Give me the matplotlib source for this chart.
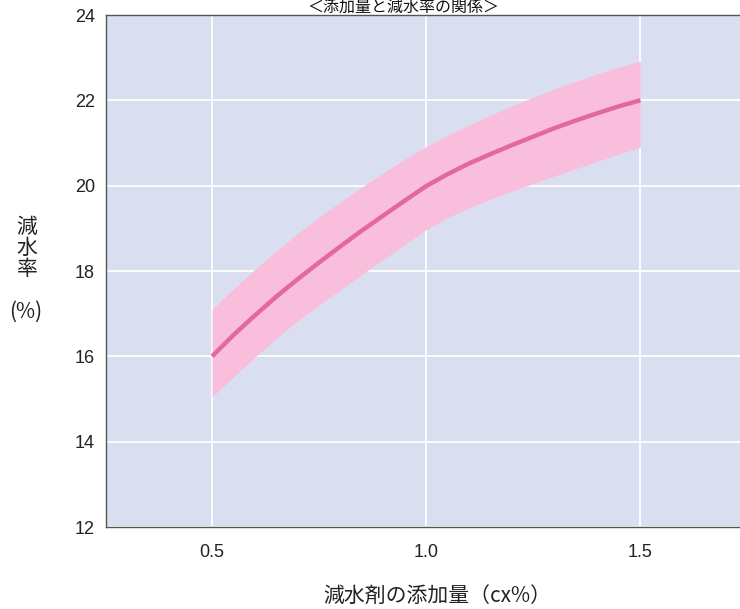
import matplotlib
matplotlib.use("Agg")
import matplotlib.pyplot as plt

plt.rcParams['font.family'] = ['Noto Sans CJK JP', 'DejaVu Sans']

# Data
dosage = [0.5, 0.55, 0.6, 0.65, 0.7, 0.75, 0.8, 0.85, 0.9, 0.95, 1.0,
          1.05, 1.1, 1.15, 1.2, 1.25, 1.3, 1.35, 1.4, 1.45, 1.5]
reduction = [16.0, 16.5, 16.96, 17.4, 17.81, 18.2, 18.58, 18.95, 19.3, 19.65, 19.99,
             20.27, 20.52, 20.74, 20.95, 21.15, 21.35, 21.53, 21.7, 21.86, 22.0]
band_upper = [17.1, 17.58, 18.04, 18.47, 18.88, 19.26, 19.62, 19.97, 20.3, 20.62, 20.92,
              21.18, 21.42, 21.65, 21.87, 22.07, 22.27, 22.45, 22.62, 22.78, 22.92]
band_lower = [15.05, 15.52, 15.98, 16.42, 16.83, 17.2, 17.56, 17.92, 18.27, 18.62, 18.97,
              19.25, 19.48, 19.68, 19.87, 20.05, 20.23, 20.4, 20.57, 20.74, 20.9]
x_ticks = [0.5, 1.0, 1.5]
x_ticklabels = ['0.5', '1.0', '1.5']
y_ticks = [12, 14, 16, 18, 20, 22, 24]

W, H = 740, 609
fig = plt.figure(figsize=(W / 100, H / 100), dpi=100)
fig.patch.set_facecolor('white')
ax = fig.add_axes([106 / W, 1 - 527 / H, 1 - 106 / W + 0.01, (527 - 15) / H])
ax.set_facecolor('#d9dff1')

ax.fill_between(dosage, band_lower, band_upper, color='#f9bedb', linewidth=0, zorder=2)
ax.plot(dosage, reduction, color='#e3689f', linewidth=3.2, zorder=3,
        solid_capstyle='butt', solid_joinstyle='round')

ax.set_xlim(0.2523, 1.75)
ax.set_ylim(12, 24)
ax.set_xticks(x_ticks)
ax.set_xticklabels(x_ticklabels)
ax.set_yticks(y_ticks)
ax.grid(True, color='white', linewidth=1.3, zorder=1)
ax.set_axisbelow(True)
ax.tick_params(length=0, pad=8, labelsize=13, colors='#222222')
for lbl in ax.get_xticklabels() + ax.get_yticklabels():
    lbl.set_fontfamily(['Liberation Sans', 'DejaVu Sans'])
ax.tick_params(axis='x', pad=12)
for s in ax.spines.values():
    s.set_color('#555555')
    s.set_linewidth(1.0)

fig.text(27 / W, 1 - 248 / H, '減\n水\n率', ha='center', va='center', fontsize=15,
         linespacing=0.95, color='#222222')
fig.text(26 / W, 1 - 312 / H, '(%)', ha='center', va='center', fontsize=15, color='#222222')
fig.text(437 / W, 1 - 596 / H, '減水剤の添加量（cx%）', ha='center', va='center', fontsize=15,
         color='#222222')
fig.text(403 / W, 1 - 7 / H, '＜添加量と減水率の関係＞', ha='center', va='center', fontsize=11.5,
         color='#111111')

fig.savefig('out.png', dpi=100)
